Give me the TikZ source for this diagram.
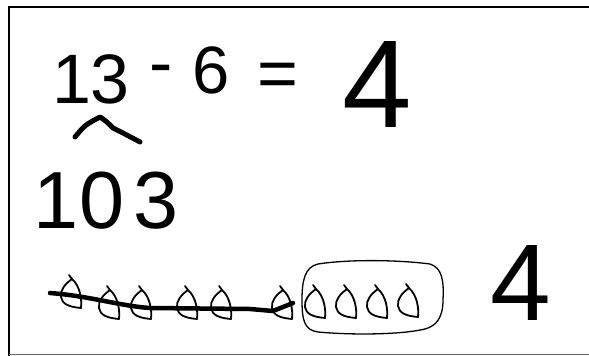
\documentclass[tikz,border=0pt]{standalone}
\usepackage{fontspec}
\setmainfont{Liberation Sans}
\begin{document}
\begin{tikzpicture}[x=1pt,y=-1pt,
  hw/.style={inner sep=0pt,outer sep=0pt,anchor=base west},
  ink/.style={line width=#1,line cap=round,line join=round},
  ink/.default=1.8pt,
  drop/.pic={
    \draw[ink] (0,0) .. controls (-7,5) and (-12,11) .. (-11,18)
      .. controls (-10,25) and (-3,28) .. (9,29)
      .. controls (10,20) and (8,7) .. (0,0);
    \draw[ink] (0,0) -- (-3,-4);
  }]
\useasboundingbox (0,0) rectangle (589,356);
% frame
\draw[line width=1.8pt] (9,356) -- (9,7) -- (589,7);
\draw[line width=0.6pt,black!60] (9,354) -- (589,354);

% first line: 13 - 6 = 4
\node[hw,font=\fontsize{70}{70}\selectfont] (t13) at (52,103) {13};
\node[hw,font=\fontsize{70}{70}\selectfont] (tminus) at (149,86) {-};
\node[hw,font=\fontsize{67}{67}\selectfont] (t6) at (192,93) {6};
\node[hw,font=\fontsize{70}{70}\selectfont] (teq) at (257,97) {=};
\node[hw,font=\fontsize{125}{125}\selectfont] (t4) at (342,127) {4};

% caret under the 3
\coordinate (c1) at (75,137);
\coordinate (c2) at (100,117);
\coordinate (c3) at (113,128);
\coordinate (c4) at (140,142);
\draw[ink=5pt] (c1) .. controls (85,125) .. (c2) .. controls (106,121) .. (c3) .. controls (125,134) .. (c4);

% second line: 103
\node[hw,font=\fontsize{81}{81}\selectfont] (t103) at (34,228) {10\hspace{9pt}3};

% drops
\foreach \x/\y in {72/279,110/290,142/290,188/290,222/290,283/290}
  \pic at (\x,\y) {drop};
\foreach \x/\y in {316/289,347/289,378/289,409/288}
  \pic at (\x,\y) {drop};

% strike-through line
\coordinate (s1) at (50,293);
\coordinate (s2) at (293,303);
\draw[ink=4.5pt] (s1) .. controls (90,296) and (120,306) .. (150,308) -- (250,309) -- (273,311) -- (s2);

% loop round the last four drops
\draw[ink=1.3pt] (318,264) .. controls (350,259) and (400,260) .. (430,264)
  .. controls (442,268) and (444,280) .. (443,300)
  .. controls (443,318) and (436,326) .. (425,329)
  .. controls (400,335) and (350,335) .. (318,332)
  .. controls (305,330) and (302,322) .. (302,300)
  .. controls (302,280) and (305,267) .. (318,264);

% answer 4
\node[hw,font=\fontsize{109}{109}\selectfont] (a4) at (490,320) {4};
\end{tikzpicture}
\end{document}
